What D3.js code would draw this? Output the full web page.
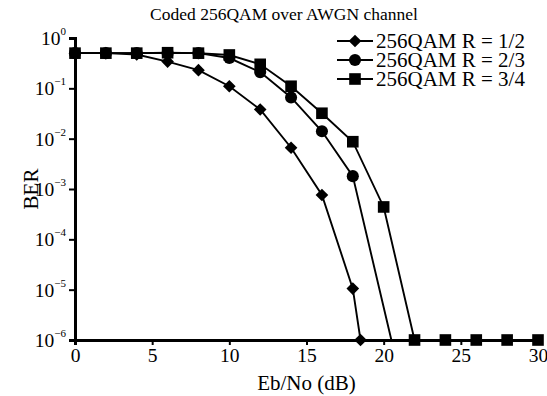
<!DOCTYPE html>
<html>
<head>
<meta charset="utf-8">
<script src="https://cdn.jsdelivr.net/npm/d3@7"></script>
<style>
  body { margin: 0; background: #fff; }
  text { font-family: "Liberation Serif", "DejaVu Serif", serif; fill: #000; }
</style>
</head>
<body>
<div id="chart"></div>
<script>
// Eb/No (dB) values for each code rate
const ebnoR12 = [0, 2, 4, 6, 8, 10, 12, 14, 16, 18, 18.5];
const ebnoR23 = [0, 2, 4, 6, 8, 10, 12, 14, 16, 18, 20.5];
const ebnoR34 = [0, 2, 4, 6, 8, 10, 12, 14, 16, 18, 20, 22, 24, 26, 28, 30];

// BER values
const berR12 = [0.5, 0.5, 0.47, 0.34, 0.23, 0.11, 0.038, 0.0066, 7.6e-4, 1.05e-5, 1e-6];
const berR23 = [0.5, 0.5, 0.5, 0.5, 0.5, 0.4, 0.21, 0.066, 0.014, 0.0018, 1e-6];
const berR34 = [0.5, 0.5, 0.5, 0.51, 0.5, 0.46, 0.3, 0.11, 0.032, 0.0087, 4.4e-4, 1e-6, 1e-6, 1e-6, 1e-6, 1e-6];

const seriesNames = ["256QAM R = 1/2", "256QAM R = 2/3", "256QAM R = 3/4"];
const xTicks = [0, 5, 10, 15, 20, 25, 30];
const yExponents = [0, -1, -2, -3, -4, -5, -6];

const config = {
  width: 547,
  height: 396,
  margin: {top: 38, right: 9, bottom: 56, left: 75}
};

const series = [
  {name: seriesNames[0], marker: "diamond", points: ebnoR12.map((x, i) => ({x: x, y: berR12[i]}))},
  // last point of the 2/3 curve has no marker in the original
  {name: seriesNames[1], marker: "circle", points: ebnoR23.map((x, i) => ({x: x, y: berR23[i], hide: i === ebnoR23.length - 1}))},
  {name: seriesNames[2], marker: "square", points: ebnoR34.map((x, i) => ({x: x, y: berR34[i]}))}
];

const svg = d3.select("#chart").append("svg")
    .attr("width", config.width)
    .attr("height", config.height);

const xScale = d3.scaleLinear()
    .domain([0, 30])
    .range([config.margin.left, config.width - config.margin.right]);

const yScale = d3.scaleLog()
    .domain([1e-6, 1])
    .range([config.height - config.margin.bottom, config.margin.top]);

const symbolFor = {
  diamond: d3.symbol().type(d3.symbolSquare).size(80),
  circle: d3.symbol().type(d3.symbolCircle).size(115),
  square: d3.symbol().type(d3.symbolSquare).size(135)
};

// lines
const line = d3.line()
    .x(d => xScale(d.x))
    .y(d => yScale(d.y));

svg.selectAll(".series-line")
  .data(series)
  .join("path")
    .attr("class", "series-line")
    .attr("d", d => line(d.points))
    .attr("fill", "none")
    .attr("stroke", "#000")
    .attr("stroke-width", 1.9);

// axes
const xAxis = d3.axisBottom(xScale)
    .tickValues(xTicks)
    .tickSize(5)
    .tickPadding(3)
    .tickFormat(d3.format("d"));

const yAxis = d3.axisLeft(yScale)
    .tickValues(yExponents.map(e => Math.pow(10, e)))
    .tickSize(6)
    .tickFormat("");

const xAxisG = svg.append("g")
    .attr("transform", `translate(0,${yScale(1e-6)})`)
    .call(xAxis);

const yAxisG = svg.append("g")
    .attr("transform", `translate(${xScale(0)},0)`)
    .call(yAxis);

[xAxisG, yAxisG].forEach(g => {
  g.select(".domain").attr("stroke-width", 3).attr("stroke", "#000");
  g.selectAll(".tick line").attr("stroke-width", 2).attr("stroke", "#000");
});

xAxisG.selectAll(".tick text")
    .attr("font-size", 19.5)
    .attr("fill", "#000");

// y tick labels as 10 with superscript exponent
const yLabel = svg.append("g").selectAll("text")
  .data(yExponents)
  .join("text")
    .attr("x", xScale(0) - 9)
    .attr("y", d => yScale(Math.pow(10, d)) + 7)
    .attr("text-anchor", "end")
    .attr("font-size", 19.5);

yLabel.append("tspan").text("10");
yLabel.append("tspan")
    .attr("font-size", 11)
    .attr("dy", -10)
    .text(d => d === 0 ? "0" : "\u2212" + Math.abs(d));

// markers
series.forEach(s => {
  svg.append("g").selectAll("path")
    .data(s.points.filter(p => !p.hide))
    .join("path")
      .attr("d", symbolFor[s.marker])
      .attr("transform", d => `translate(${xScale(d.x)},${yScale(d.y)})` + (s.marker === "diamond" ? " rotate(45)" : ""))
      .attr("fill", "#000");
});

// title and axis labels
svg.append("text")
    .attr("x", 284)
    .attr("y", 20)
    .attr("text-anchor", "middle")
    .attr("font-size", 17.5)
    .text("Coded 256QAM over AWGN channel");

svg.append("text")
    .attr("x", (xScale.range()[0] + xScale.range()[1]) / 2)
    .attr("y", 390)
    .attr("text-anchor", "middle")
    .attr("font-size", 21)
    .text("Eb/No (dB)");

svg.append("text")
    .attr("transform", `translate(38,${(yScale.range()[0] + yScale.range()[1]) / 2}) rotate(-90)`)
    .attr("text-anchor", "middle")
    .attr("font-size", 21)
    .text("BER");

// legend
const legend = svg.append("g").selectAll("g")
  .data(series)
  .join("g")
    .attr("transform", (d, i) => `translate(337,${41 + i * 19})`);

legend.append("line")
    .attr("x1", 0)
    .attr("x2", 36)
    .attr("stroke", "#000")
    .attr("stroke-width", 1.9);

legend.append("path")
    .attr("d", d => symbolFor[d.marker]())
    .attr("transform", d => "translate(18,0)" + (d.marker === "diamond" ? " rotate(45)" : ""))
    .attr("fill", "#000");

legend.append("text")
    .attr("x", 39)
    .attr("y", 7)
    .attr("font-size", 21)
    .text(d => d.name);
</script>
</body>
</html>
